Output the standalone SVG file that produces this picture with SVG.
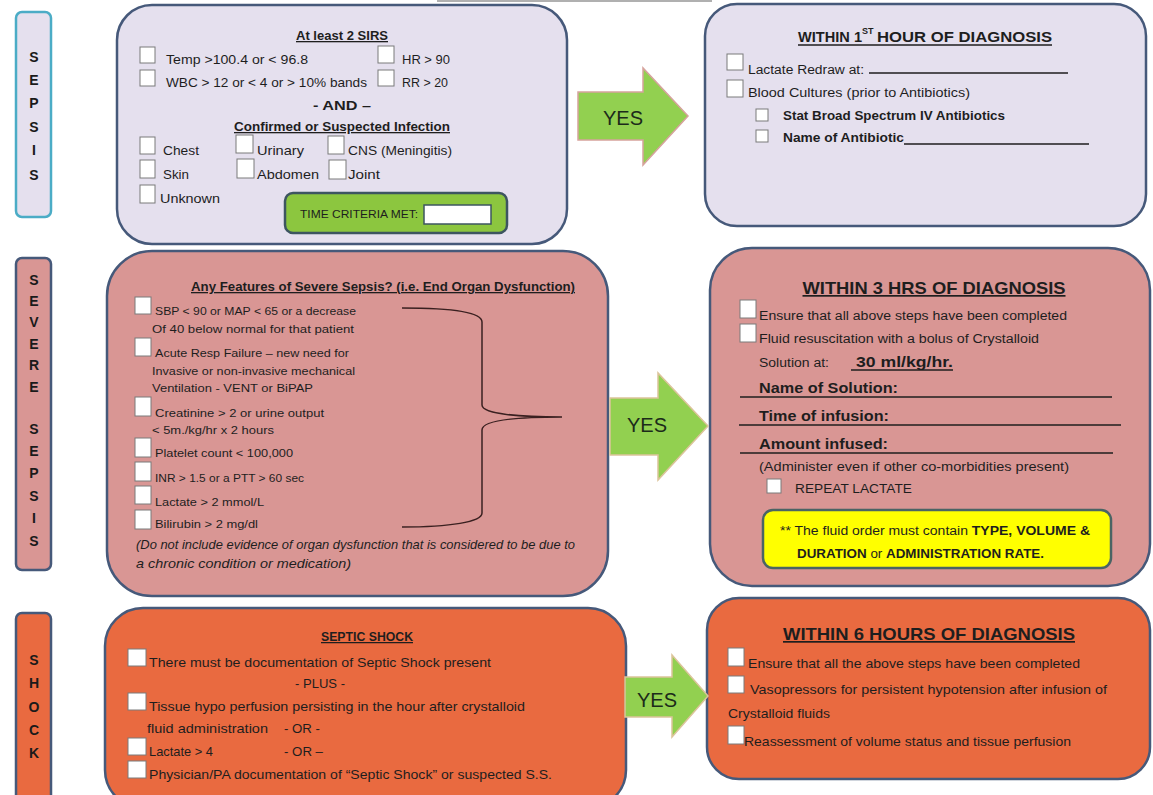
<svg xmlns="http://www.w3.org/2000/svg" width="1153" height="795" viewBox="0 0 1153 795">
<style>
.t{font-family:"Liberation Sans",Arial,sans-serif;font-size:13px;fill:#1e1e1e}
.s{font-size:11.5px}
.m{font-size:12.5px}
.b{font-weight:bold}
.u{text-decoration:underline}
.i{font-style:italic}
.c{text-anchor:middle}
.cb{fill:#fff;stroke:#7a7a7a;stroke-width:1}
.box{stroke:#46597a;stroke-width:2.5}
.lav{fill:#e5e0ee}
.pink{fill:#d99694}
.org{fill:#e96a40}
.arr{fill:#92d050;stroke-width:1.5}
.yes{font-family:"Liberation Sans",Arial,sans-serif;font-size:20px;fill:#1c2b1a;text-anchor:middle}
.sl{font-family:"Liberation Sans",Arial,sans-serif;font-weight:bold;font-size:14px;text-anchor:middle;fill:#1a1a1a}
.ln{stroke:#1e1e1e;stroke-width:1.3}
</style>
<rect x="437" y="0" width="275" height="2" fill="#b0b0b0"/>

<g id="sidebar-sepsis">
<rect x="16" y="12" width="35" height="205" rx="6" class="lav" stroke="#4bacc6" stroke-width="2.5"/>
<text class="sl" x="34" y="62">S</text><text class="sl" x="34" y="85">E</text><text class="sl" x="34" y="108">P</text><text class="sl" x="34" y="132">S</text><text class="sl" x="34" y="155">I</text><text class="sl" x="34" y="180">S</text>
</g>
<g id="sidebar-severe">
<rect x="16" y="258" width="35" height="312" rx="6" class="pink box"/>
<text class="sl" x="34" y="285">S</text><text class="sl" x="34" y="306">E</text><text class="sl" x="34" y="327">V</text><text class="sl" x="34" y="349">E</text><text class="sl" x="34" y="370">R</text><text class="sl" x="34" y="392">E</text>
<text class="sl" x="34" y="434">S</text><text class="sl" x="34" y="456">E</text><text class="sl" x="34" y="478">P</text><text class="sl" x="34" y="501">S</text><text class="sl" x="34" y="523">I</text><text class="sl" x="34" y="546">S</text>
</g>
<g id="sidebar-shock">
<rect x="16" y="613" width="35" height="195" rx="6" class="org box"/>
<text class="sl" x="34" y="665">S</text><text class="sl" x="34" y="688">H</text><text class="sl" x="34" y="712">O</text><text class="sl" x="34" y="735">C</text><text class="sl" x="34" y="758">K</text>
</g>

<g id="sirs">
<rect x="117" y="5" width="450" height="239" rx="35" class="lav box"/>
<text class="t b u c" x="342" y="40" textLength="92" lengthAdjust="spacingAndGlyphs">At least 2 SIRS</text>
<rect class="cb" x="140" y="47" width="15" height="16"/>
<text class="t" x="166" y="64" textLength="142" lengthAdjust="spacingAndGlyphs">Temp &gt;100.4 or &lt; 96.8</text>
<rect class="cb" x="378" y="46" width="16" height="17"/>
<text class="t" x="402" y="64" textLength="48" lengthAdjust="spacingAndGlyphs">HR &gt; 90</text>
<rect class="cb" x="140" y="70" width="15" height="16"/>
<text class="t" x="166" y="87" textLength="201" lengthAdjust="spacingAndGlyphs">WBC &gt; 12 or &lt; 4 or &gt; 10% bands</text>
<rect class="cb" x="378" y="70" width="16" height="16"/>
<text class="t" x="402" y="87" textLength="46" lengthAdjust="spacingAndGlyphs">RR &gt; 20</text>
<text class="t b c" x="342" y="110" textLength="58" lengthAdjust="spacingAndGlyphs">- AND –</text>
<text class="t b u c" x="342" y="131" textLength="216" lengthAdjust="spacingAndGlyphs">Confirmed or Suspected Infection</text>
<rect class="cb" x="140" y="137" width="15" height="17"/>
<text class="t" x="163" y="155" textLength="36" lengthAdjust="spacingAndGlyphs">Chest</text>
<rect class="cb" x="236" y="135" width="17" height="18"/>
<text class="t" x="257" y="155" textLength="47" lengthAdjust="spacingAndGlyphs">Urinary</text>
<rect class="cb" x="328" y="136" width="16" height="18"/>
<text class="t" x="348" y="155" textLength="104" lengthAdjust="spacingAndGlyphs">CNS (Meningitis)</text>
<rect class="cb" x="140" y="160" width="15" height="18"/>
<text class="t" x="163" y="179" textLength="26" lengthAdjust="spacingAndGlyphs">Skin</text>
<rect class="cb" x="237" y="159" width="17" height="19"/>
<text class="t" x="257" y="179" textLength="62" lengthAdjust="spacingAndGlyphs">Abdomen</text>
<rect class="cb" x="329" y="160" width="17" height="19"/>
<text class="t" x="348" y="179" textLength="32" lengthAdjust="spacingAndGlyphs">Joint</text>
<rect class="cb" x="140" y="185" width="15" height="18"/>
<text class="t" x="160" y="203" textLength="60" lengthAdjust="spacingAndGlyphs">Unknown</text>
<rect x="285" y="193" width="222" height="40" rx="8" fill="#8cc63f" stroke="#3d5560" stroke-width="2.5"/>
<text class="t s" x="300" y="218" textLength="118" lengthAdjust="spacingAndGlyphs">TIME CRITERIA MET:</text>
<rect x="424" y="205" width="67" height="19" fill="#fff" stroke="#3d5560" stroke-width="1.5"/>
</g>

<g id="hour1">
<rect x="705" y="4" width="441" height="222" rx="32" class="lav box"/>
<text class="t b" x="798" y="42" style="font-size:15px" textLength="64" lengthAdjust="spacingAndGlyphs">WITHIN 1</text>
<text class="t b" x="862" y="34" style="font-size:9px">ST</text>
<text class="t b" x="877" y="42" style="font-size:15px" textLength="175" lengthAdjust="spacingAndGlyphs">HOUR OF DIAGNOSIS</text>
<line class="ln" x1="798" y1="45" x2="1052" y2="45"/>
<rect class="cb" x="727" y="54" width="16" height="16"/>
<text class="t m" x="748" y="74" textLength="116" lengthAdjust="spacingAndGlyphs">Lactate Redraw at:</text>
<line class="ln" x1="869" y1="73" x2="1068" y2="73"/>
<rect class="cb" x="727" y="80" width="16" height="17"/>
<text class="t m" x="748" y="97" textLength="222" lengthAdjust="spacingAndGlyphs">Blood Cultures (prior to Antibiotics)</text>
<rect class="cb" x="756" y="109" width="12" height="12"/>
<text class="t m b" x="783" y="120" textLength="222" lengthAdjust="spacingAndGlyphs">Stat Broad Spectrum IV Antibiotics</text>
<rect class="cb" x="756" y="130" width="12" height="12"/>
<text class="t m b" x="783" y="142" textLength="121" lengthAdjust="spacingAndGlyphs">Name of Antibiotic</text>
<line class="ln" x1="904" y1="144" x2="1089" y2="144"/>
</g>

<g id="severe">
<rect x="107" y="251" width="501" height="345" rx="45" class="pink box"/>
<text class="t b u" x="191" y="291" textLength="384" lengthAdjust="spacingAndGlyphs">Any Features of Severe Sepsis? (i.e. End Organ Dysfunction)</text>
<rect class="cb" x="135" y="297" width="16" height="17"/>
<text class="t s" x="155" y="315" textLength="201" lengthAdjust="spacingAndGlyphs">SBP &lt; 90 or MAP &lt; 65 or a decrease</text>
<text class="t s" x="152" y="333" textLength="202" lengthAdjust="spacingAndGlyphs">Of 40 below normal for that patient</text>
<rect class="cb" x="135" y="338" width="16" height="18"/>
<text class="t s" x="155" y="357" textLength="194" lengthAdjust="spacingAndGlyphs">Acute Resp Failure – new need for</text>
<text class="t s" x="152" y="375" textLength="203" lengthAdjust="spacingAndGlyphs">Invasive or non-invasive mechanical</text>
<text class="t s" x="152" y="392" textLength="161" lengthAdjust="spacingAndGlyphs">Ventilation -  VENT or  BiPAP</text>
<rect class="cb" x="135" y="397" width="16" height="19"/>
<text class="t s" x="155" y="417" textLength="169" lengthAdjust="spacingAndGlyphs">Creatinine &gt; 2 or urine output</text>
<text class="t s" x="152" y="434" textLength="122" lengthAdjust="spacingAndGlyphs">&lt; 5m./kg/hr x 2 hours</text>
<rect class="cb" x="135" y="438" width="16" height="19"/>
<text class="t s" x="155" y="457" textLength="138" lengthAdjust="spacingAndGlyphs">Platelet count &lt; 100,000</text>
<rect class="cb" x="135" y="462" width="16" height="19"/>
<text class="t s" x="155" y="482" textLength="149" lengthAdjust="spacingAndGlyphs">INR &gt; 1.5 or a PTT &gt; 60 sec</text>
<rect class="cb" x="135" y="486" width="16" height="18"/>
<text class="t s" x="155" y="506" textLength="109" lengthAdjust="spacingAndGlyphs">Lactate &gt; 2 mmol/L</text>
<rect class="cb" x="135" y="510" width="16" height="19"/>
<text class="t s" x="155" y="528" textLength="103" lengthAdjust="spacingAndGlyphs">Bilirubin &gt; 2 mg/dl</text>
<text class="t i" x="136" y="549" textLength="439" lengthAdjust="spacingAndGlyphs">(Do not include evidence of organ dysfunction that is considered to be due to</text>
<text class="t i" x="136" y="568" textLength="215" lengthAdjust="spacingAndGlyphs">a chronic condition or medication)</text>
<path d="M402,308 C450,308 482,312 482,322 L482,405 C482,414 520,417 562,417 M562,417 C520,417 482,420 482,430 L482,513 C482,522 450,527 402,527" fill="none" stroke="#3a2020" stroke-width="1.5"/>
</g>

<g id="hours3">
<rect x="710" y="248" width="440" height="338" rx="42" class="pink box"/>
<text class="t b u c" x="934" y="294" style="font-size:17px" textLength="263" lengthAdjust="spacingAndGlyphs">WITHIN 3 HRS OF DIAGNOSIS</text>
<rect class="cb" x="740" y="300" width="16" height="18"/>
<text class="t m" x="759" y="320" textLength="308" lengthAdjust="spacingAndGlyphs">Ensure that all above steps have been completed</text>
<rect class="cb" x="740" y="324" width="16" height="18"/>
<text class="t m" x="759" y="343" textLength="280" lengthAdjust="spacingAndGlyphs">Fluid resuscitation with a bolus of Crystalloid</text>
<text class="t m" x="759" y="367" textLength="70" lengthAdjust="spacingAndGlyphs">Solution at:</text>
<text class="t b" x="856" y="367" style="font-size:14.5px" textLength="97" lengthAdjust="spacingAndGlyphs">30 ml/kg/hr.</text>
<line class="ln" x1="851" y1="370" x2="953" y2="370"/>
<text class="t b" x="759" y="393" style="font-size:14.5px" textLength="139" lengthAdjust="spacingAndGlyphs">Name of Solution:</text>
<line class="ln" x1="740" y1="397" x2="1112" y2="397"/>
<text class="t b" x="759" y="421" style="font-size:14.5px" textLength="130" lengthAdjust="spacingAndGlyphs">Time of infusion:</text>
<line class="ln" x1="739" y1="425" x2="1121" y2="425"/>
<text class="t b" x="759" y="449" style="font-size:14.5px" textLength="129" lengthAdjust="spacingAndGlyphs">Amount infused:</text>
<line class="ln" x1="740" y1="453" x2="1113" y2="453"/>
<text class="t m" x="759" y="471" textLength="310" lengthAdjust="spacingAndGlyphs">(Administer even if other co-morbidities present)</text>
<rect class="cb" x="767" y="479" width="14" height="14"/>
<text class="t m" x="795" y="493" textLength="117" lengthAdjust="spacingAndGlyphs">REPEAT LACTATE</text>
<rect x="763" y="510" width="348" height="58" rx="10" fill="#ffff00" stroke="#4a6464" stroke-width="2.5"/>
<text class="t m" x="780" y="535" textLength="310" lengthAdjust="spacingAndGlyphs">** The fluid order must contain <tspan class="b">TYPE, VOLUME &amp;</tspan></text>
<text class="t m" x="797" y="558" textLength="247" lengthAdjust="spacingAndGlyphs"><tspan class="b">DURATION</tspan> or <tspan class="b">ADMINISTRATION RATE.</tspan></text>
</g>

<g id="shock">
<rect x="105" y="608" width="521" height="200" rx="38" class="org box"/>
<text class="t b u c" x="367" y="641" style="font-size:12.5px" textLength="92" lengthAdjust="spacingAndGlyphs">SEPTIC SHOCK</text>
<rect class="cb" x="128" y="649" width="18" height="17"/>
<text class="t" x="149" y="667" textLength="342" lengthAdjust="spacingAndGlyphs">There must be documentation of Septic Shock present</text>
<text class="t" x="295" y="688" textLength="50" lengthAdjust="spacingAndGlyphs">- PLUS -</text>
<rect class="cb" x="128" y="693" width="18" height="17"/>
<text class="t" x="149" y="711" textLength="376" lengthAdjust="spacingAndGlyphs">Tissue hypo perfusion persisting in the hour after crystalloid</text>
<text class="t" x="147" y="733" textLength="121" lengthAdjust="spacingAndGlyphs">fluid administration</text>
<text class="t" x="284" y="733" textLength="36" lengthAdjust="spacingAndGlyphs">- OR -</text>
<rect class="cb" x="128" y="738" width="18" height="17"/>
<text class="t" x="149" y="756" textLength="64" lengthAdjust="spacingAndGlyphs">Lactate &gt; 4</text>
<text class="t" x="284" y="756" textLength="39" lengthAdjust="spacingAndGlyphs">- OR –</text>
<rect class="cb" x="128" y="761" width="18" height="17"/>
<text class="t" x="149" y="779" textLength="403" lengthAdjust="spacingAndGlyphs">Physician/PA documentation of “Septic Shock” or suspected S.S.</text>
</g>

<g id="hours6">
<rect x="707" y="598" width="443" height="181" rx="32" class="org box"/>
<text class="t b u c" x="929" y="640" style="font-size:17px" textLength="292" lengthAdjust="spacingAndGlyphs">WITHIN 6 HOURS OF DIAGNOSIS</text>
<rect class="cb" x="728" y="648" width="16" height="18"/>
<text class="t" x="748" y="668" textLength="332" lengthAdjust="spacingAndGlyphs">Ensure that all the above steps have been completed</text>
<rect class="cb" x="728" y="676" width="16" height="17"/>
<text class="t" x="750" y="694" textLength="357" lengthAdjust="spacingAndGlyphs">Vasopressors for persistent hypotension after infusion of</text>
<text class="t" x="728" y="718" textLength="102" lengthAdjust="spacingAndGlyphs">Crystalloid fluids</text>
<rect class="cb" x="728" y="726" width="16" height="18"/>
<text class="t" x="744" y="746" textLength="327" lengthAdjust="spacingAndGlyphs">Reassessment of volume status and tissue perfusion</text>
</g>

<g id="connectors">
<polygon class="arr" stroke="#d6a39c" points="578,92 643,92 643,68 688,116 643,165 643,140 578,140"/>
<text class="yes" x="623" y="125">YES</text>
<polygon class="arr" stroke="#dcc49a" points="610,398 658,398 658,373 708,426 658,480 658,455 610,455"/>
<text class="yes" x="647" y="432">YES</text>
<polygon class="arr" stroke="#dcc49a" points="625,677 672,677 672,655 708,696 672,737 672,717 625,717"/>
<text class="yes" x="657" y="707">YES</text>
</g>
</svg>
